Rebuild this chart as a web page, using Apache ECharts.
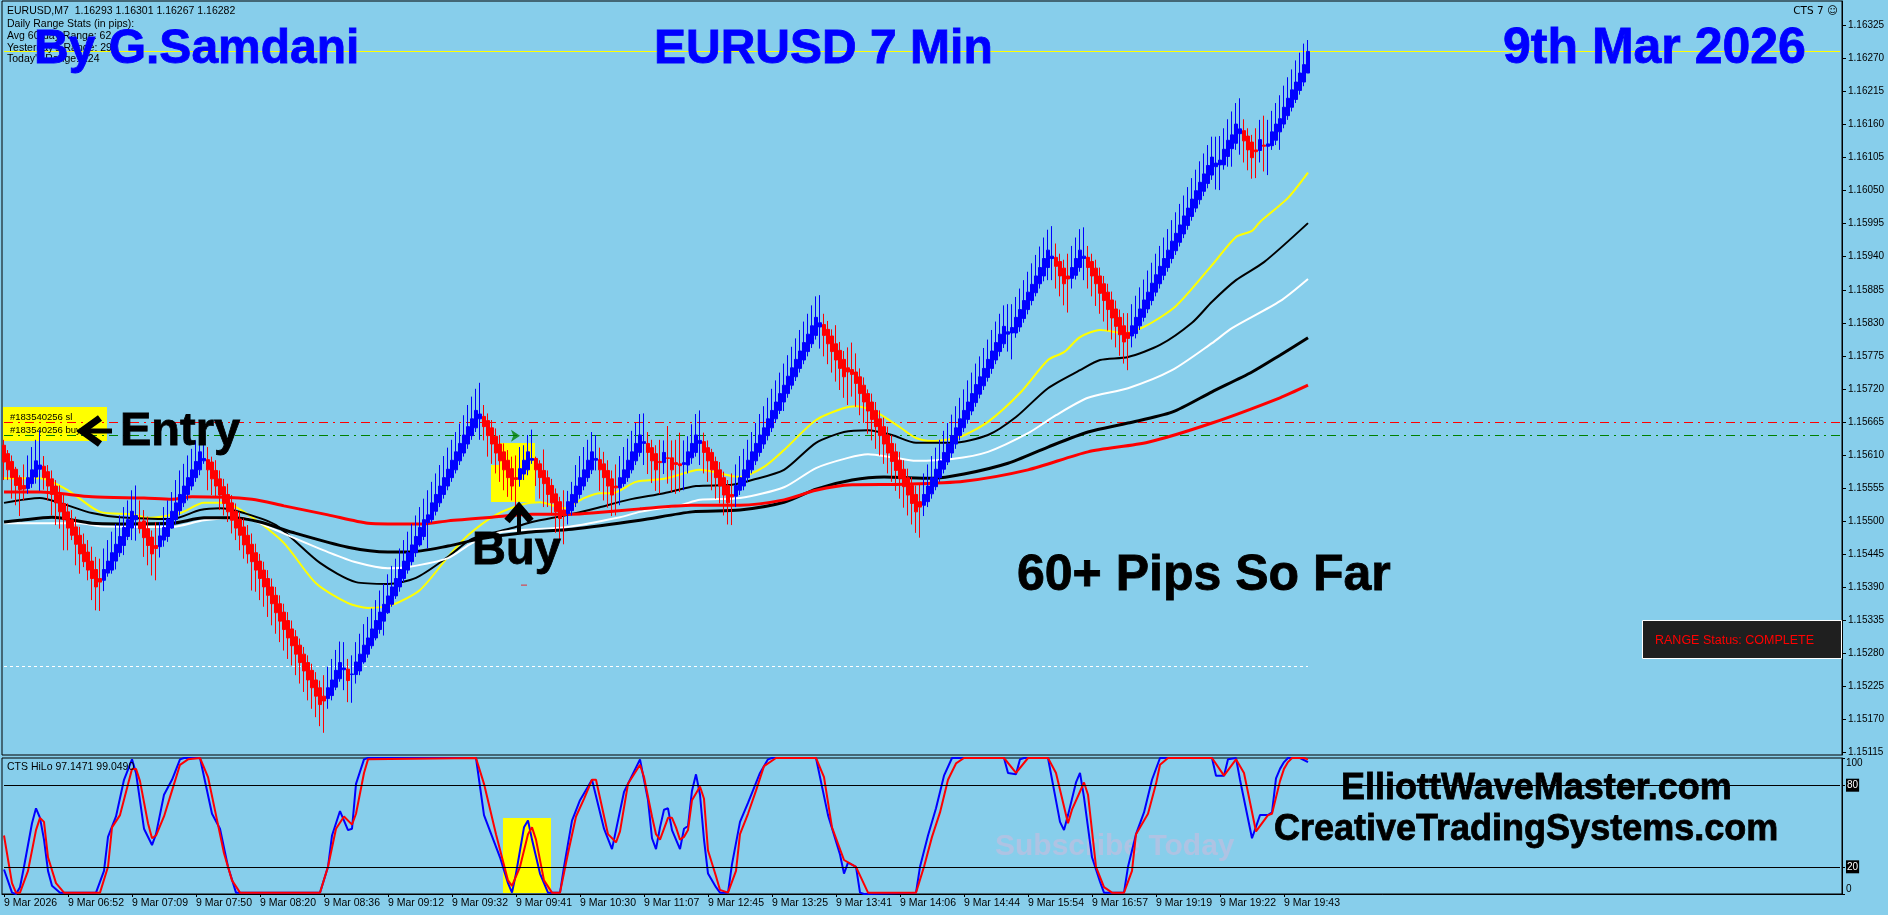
<!DOCTYPE html>
<html><head><meta charset="utf-8">
<style>html,body{margin:0;padding:0;background:#87CEEB}#c{width:1888px;height:915px}</style>
<script src="https://cdn.jsdelivr.net/npm/echarts@6/dist/echarts.min.js"></script>
</head><body><div id="c"></div>
<script>
// All prices are in points: 15610 means 1.15610. Rows: [open, close, high, low]
const barsMorning = [
[15626,15598,15635,15568],[15612,15585,15618,15568],[15599,15572,15609,15537],[15586,15559,15590,15526],[15572,15552,15576,15508],[15559,15553,15594,15534],
[15554,15572,15609,15545],[15562,15585,15623,15555],[15573,15600,15635,15562],[15586,15593,15651,15550],[15591,15572,15608,15552],[15582,15558,15593,15534],
[15570,15544,15584,15509],[15558,15530,15568,15493],[15543,15515,15559,15487],[15529,15502,15545,15451],[15515,15488,15529,15451],[15502,15476,15518,15468],
[15490,15461,15507,15426],[15476,15445,15490,15412],[15461,15432,15479,15423],[15448,15418,15468,15401],[15433,15404,15457,15368],[15419,15390,15440,15351],
[15404,15398,15437,15350],[15401,15419,15454,15383],[15413,15433,15468,15407],[15418,15447,15482,15412],[15433,15461,15495,15419],[15447,15474,15509,15440],
[15459,15489,15523,15443],[15474,15502,15534,15468],[15488,15516,15551,15468],[15502,15509,15559,15467],[15498,15487,15534,15479],[15500,15472,15518,15440],
[15487,15459,15507,15426],[15473,15445,15484,15409],[15459,15454,15498,15401],[15457,15475,15498,15439],[15468,15489,15523,15457],[15474,15503,15534,15465],
[15488,15516,15548,15487],[15502,15530,15568,15495],[15517,15544,15584,15509],[15530,15558,15595,15523],[15544,15572,15609,15534],[15558,15585,15620,15551],
[15572,15599,15634,15565],[15585,15615,15645,15576],[15600,15604,15634,15595],[15602,15585,15623,15551],[15598,15570,15607,15543],[15584,15558,15601,15540],
[15570,15543,15584,15518],[15557,15529,15570,15509],[15544,15515,15562,15498],[15530,15501,15543,15479],[15516,15488,15529,15468],[15503,15476,15515,15451],
[15490,15460,15504,15437],[15476,15445,15493,15429],[15461,15432,15479,15384],[15447,15418,15462,15382],[15433,15404,15445,15368]
];
const barsDrop = [
[15418,15390,15432,15357],[15404,15376,15418,15340],[15390,15362,15404,15326],[15376,15347,15390,15312],[15362,15333,15376,15298],[15348,15319,15362,15284],
[15334,15305,15348,15270],[15320,15292,15334,15259],[15307,15278,15318,15243],[15293,15264,15304,15229],[15278,15250,15290,15215],[15264,15235,15276,15201],
[15251,15222,15262,15187],[15235,15208,15248,15173],[15222,15194,15234,15158],[15208,15200,15243,15147],[15204,15222,15257,15187],[15209,15235,15270,15201],
[15223,15251,15285,15218],[15237,15264,15299,15232],[15252,15255,15298,15218],[15253,15234,15270,15198],[15244,15245,15276,15197],[15244,15265,15298,15229],
[15250,15278,15312,15243],[15265,15293,15328,15262],[15278,15305,15340,15272],[15292,15320,15354,15287],[15305,15334,15368,15301],[15319,15348,15384,15312],
[15333,15361,15395,15309],[15347,15375,15411,15345],[15361,15390,15425,15357],[15375,15404,15437,15370],[15390,15419,15454,15382],[15404,15433,15468,15398],
[15418,15447,15482,15412],[15432,15460,15495,15426],[15447,15474,15509,15440],[15460,15489,15523,15457],[15474,15502,15537,15468],[15497,15510,15551,15454],
[15502,15530,15565,15497],[15516,15544,15579,15509],[15530,15558,15593,15523],[15544,15572,15608,15537],[15558,15586,15622,15551],[15572,15601,15635,15565],
[15585,15615,15648,15579],[15600,15629,15662,15593],[15613,15643,15676,15607],[15628,15657,15693,15620],[15642,15670,15707,15635],[15655,15684,15720,15648],
[15670,15678,15730,15635],[15674,15657,15693,15634],[15667,15642,15679,15607],[15655,15628,15668,15595],[15641,15613,15654,15579],[15628,15600,15643,15565],
[15615,15585,15629,15551],[15601,15572,15618,15540],[15587,15558,15607,15534],[15572,15569,15609,15523]
];
const barsRange = [
[15569,15587,15623,15557],[15578,15601,15626,15568],[15585,15615,15643,15576],[15601,15604,15652,15595],[15604,15585,15607,15558],[15595,15572,15601,15537],
[15584,15562,15619,15523],[15572,15544,15584,15523],[15559,15530,15570,15509],[15545,15515,15554,15480],[15532,15504,15540,15466],[15518,15509,15551,15461],
[15512,15532,15550,15494],[15517,15544,15565,15509],[15530,15558,15593,15523],[15544,15572,15608,15537],[15558,15585,15623,15551],[15572,15601,15635,15565],
[15585,15615,15648,15578],[15601,15604,15643,15584],[15602,15585,15622,15550],[15595,15572,15615,15534],[15584,15558,15601,15522],[15570,15543,15584,15508],
[15558,15555,15594,15509],[15555,15572,15608,15526],[15562,15585,15623,15557],[15572,15601,15637,15565],[15585,15615,15650,15579],[15600,15629,15663,15593],
[15614,15643,15678,15607],[15629,15632,15679,15593],[15629,15614,15648,15578],[15622,15600,15635,15563],[15612,15585,15626,15550],[15599,15597,15635,15545],
[15597,15614,15634,15578],[15605,15604,15658,15562],[15605,15585,15634,15548],[15597,15594,15635,15545],[15595,15592,15647,15548],[15594,15597,15634,15551],
[15593,15615,15641,15579],[15605,15629,15661,15595],[15614,15643,15678,15607],[15629,15634,15684,15593],[15632,15614,15647,15579],[15622,15600,15634,15565],
[15614,15585,15620,15551],[15599,15572,15607,15537],[15585,15558,15598,15529],[15572,15543,15582,15509],[15559,15530,15568,15494],[15544,15540,15579,15493],
[15541,15559,15594,15523],[15551,15572,15608,15543],[15558,15585,15620,15551],[15572,15601,15635,15565],[15585,15615,15648,15579],[15600,15629,15663,15593],
[15614,15643,15678,15607],[15628,15655,15691,15620],[15642,15670,15705,15634],[15655,15684,15720,15648],[15670,15698,15734,15663]
];
const barsMidday = [
[15684,15712,15747,15678],[15698,15726,15762,15683],[15712,15741,15776,15705],[15726,15755,15790,15719],[15740,15769,15804,15733],[15754,15783,15818,15747],
[15768,15797,15832,15761],[15782,15811,15845,15774],[15795,15825,15859,15788],[15809,15839,15874,15802],[15823,15830,15876,15787],[15827,15809,15845,15774],
[15819,15795,15833,15761],[15808,15782,15819,15747],[15795,15768,15826,15732],[15784,15754,15798,15718],[15769,15740,15783,15705],[15755,15748,15789,15693],
[15752,15744,15797,15707],[15748,15729,15779,15690],[15740,15712,15754,15676],[15726,15698,15739,15663],[15712,15683,15719,15645],[15698,15669,15712,15634],
[15684,15657,15698,15620],[15670,15642,15684,15609],[15657,15628,15672,15595],[15643,15613,15657,15579],[15629,15599,15643,15565],[15615,15584,15629,15550],
[15601,15570,15615,15537],[15586,15557,15601,15522],[15572,15543,15587,15509],[15559,15529,15573,15494],[15544,15515,15559,15480],[15532,15523,15563,15472],
[15526,15544,15579,15508],[15532,15558,15594,15523],[15545,15572,15608,15537],[15557,15586,15622,15551],[15572,15600,15635,15565],[15586,15614,15650,15579],
[15598,15628,15663,15593],[15613,15642,15677,15605],[15628,15655,15691,15620],[15642,15670,15705,15634],[15655,15684,15719,15648],[15669,15698,15734,15662],
[15683,15712,15747,15676],[15697,15727,15762,15690],[15711,15740,15774,15704],[15725,15754,15788,15718],[15739,15769,15802,15732],[15754,15783,15818,15745],
[15768,15797,15832,15761],[15782,15811,15845,15774],[15795,15824,15859,15788],[15811,15815,15861,15782],[15813,15822,15861,15769],[15813,15839,15873,15805],
[15823,15852,15887,15815],[15837,15867,15901,15830],[15852,15881,15915,15844],[15867,15894,15929,15859]
];
const barsEvening = [
[15880,15908,15943,15874],[15895,15922,15957,15887],[15908,15937,15972,15899],[15922,15951,15985,15901],[15937,15941,15991,15901],[15939,15924,15962,15887],
[15932,15908,15945,15874],[15921,15895,15935,15859],[15908,15903,15945,15847],[15904,15922,15958,15887],[15909,15937,15972,15902],[15922,15951,15986,15915],
[15937,15941,15989,15901],[15939,15922,15958,15887],[15932,15908,15945,15874],[15921,15895,15935,15858],[15908,15879,15922,15845],[15895,15867,15908,15832],
[15881,15852,15895,15817],[15868,15838,15882,15802],[15853,15824,15867,15789],[15839,15810,15852,15775],[15825,15798,15846,15762],[15814,15804,15846,15751],
[15808,15825,15861,15789],[15812,15839,15875,15804],[15825,15853,15889,15818],[15839,15868,15902,15832],[15853,15881,15917,15846],[15867,15896,15930,15859],
[15881,15910,15945,15874],[15895,15924,15958,15887],[15909,15937,15972,15901],[15922,15951,15986,15915],[15937,15966,16001,15929],[15950,15979,16014,15943],
[15964,15993,16028,15957],[15978,16008,16042,15971],[15992,16021,16056,15985],[16007,16036,16071,16000],[16021,16050,16085,16014],[16035,16064,16099,16027],
[16049,16078,16112,16041],[16062,16092,16126,16054],[16076,16106,16140,16068],[16090,16096,16140,16052],[16093,16101,16141,16051],[16093,16119,16154,16085],
[16107,16134,16169,16090],[16120,16143,16182,16090],[16129,16161,16196,16118],[16145,16153,16204,16110],[16150,16133,16169,16097],[16141,16118,16154,16084],
[16131,16105,16143,16070],[16118,16115,16154,16071],[16117,16135,16168,16097],[16126,16124,16175,16082],[16124,16128,16168,16076],[16125,16148,16183,16118],
[16134,16161,16196,16126],[16148,16170,16209,16118],[16161,16189,16225,16154],[16175,16204,16239,16168],[16189,16218,16252,16182],[16202,16231,16267,16196],
[16217,16246,16280,16210],[16231,16260,16295,16224],[16246,16282,16301,16246]
];
// Moving averages: [bar index, points]
const maYellow = [[0,15571],[9,15571],[16,15551],[24,15515],[32,15511],[36,15505],[44,15513],[50,15530],[55,15530],[62,15506],[70,15463],[78,15396],[86,15363],[91,15355],[97,15360],[104,15385],[111,15440],[116,15476],[123,15510],[130,15528],[134,15531],[140,15521],[145,15538],[149,15546],[152,15546],[158,15565],[165,15570],[172,15583],[174,15585],[184,15573],[190,15590],[195,15618],[203,15668],[210,15688],[213,15691],[218,15681],[224,15656],[228,15638],[232,15633],[239,15640],[246,15665],[254,15713],[261,15768],[265,15781],[269,15806],[274,15818],[280,15813],[285,15823],[293,15858],[302,15926],[308,15973],[312,15983],[314,15998],[321,16038],[326,16080]];
const maBlackThin = [[0,15530],[9,15538],[14,15530],[22,15513],[29,15506],[42,15503],[49,15518],[54,15521],[60,15513],[68,15493],[79,15430],[88,15398],[96,15395],[103,15405],[111,15440],[117,15470],[127,15488],[132,15498],[141,15510],[148,15521],[156,15535],[165,15546],[173,15558],[182,15560],[187,15568],[195,15585],[203,15630],[210,15648],[216,15651],[222,15643],[228,15630],[237,15630],[246,15643],[253,15673],[261,15721],[269,15751],[274,15768],[281,15773],[289,15793],[297,15830],[302,15865],[308,15901],[315,15931],[326,15996]];
const maWhite = [[0,15496],[19,15496],[24,15491],[42,15490],[50,15501],[60,15505],[65,15493],[72,15473],[81,15448],[88,15431],[96,15421],[101,15423],[111,15438],[117,15463],[124,15481],[141,15490],[154,15506],[159,15515],[169,15526],[174,15535],[184,15538],[195,15556],[203,15588],[211,15605],[216,15611],[222,15606],[228,15600],[237,15603],[246,15615],[256,15646],[263,15676],[271,15705],[281,15721],[292,15751],[302,15796],[307,15821],[319,15866],[326,15903]];
const maBlackThick = [[0,15498],[4,15501],[12,15506],[22,15496],[29,15495],[42,15496],[50,15505],[57,15505],[64,15498],[72,15481],[86,15456],[96,15448],[101,15448],[111,15458],[119,15470],[131,15481],[142,15486],[159,15501],[172,15515],[184,15518],[195,15531],[203,15553],[212,15568],[220,15573],[232,15571],[240,15578],[251,15596],[261,15623],[271,15648],[281,15663],[292,15681],[302,15715],[312,15748],[319,15776],[326,15805]];
const maRed = [[0,15548],[9,15548],[22,15540],[35,15538],[42,15536],[47,15540],[62,15536],[70,15525],[81,15510],[91,15496],[96,15495],[105,15495],[111,15500],[122,15506],[132,15511],[142,15511],[147,15513],[159,15520],[172,15526],[184,15526],[195,15535],[203,15551],[212,15560],[225,15561],[240,15566],[256,15585],[271,15615],[286,15631],[302,15663],[319,15705],[326,15726]];
// CTS HiLo oscillator: [bar index, value]
const hiloBlue = [[0,18],[2,1],[3,0],[4,5],[5,20],[7,52],[8,63],[9,56],[10,40],[11,17],[12,6],[14,1],[23,1],[25,17],[26,42],[28,57],[30,84],[32,99],[33,89],[35,48],[37,36],[38,44],[40,73],[42,84],[44,99],[45,100],[49,100],[52,59],[54,48],[56,20],[58,1],[79,1],[81,20],[82,43],[84,61],[86,47],[87,48],[88,81],[90,99],[91,100],[118,100],[120,58],[124,27],[126,8],[127,1],[128,15],[130,49],[131,54],[132,40],[134,15],[136,1],[139,1],[140,20],[142,54],[144,69],[147,84],[150,48],[152,33],[155,75],[159,99],[161,69],[162,41],[163,33],[164,49],[165,62],[166,63],[167,47],[169,33],[170,48],[171,50],[172,76],[173,88],[174,73],[175,40],[176,15],[178,5],[179,1],[181,1],[182,22],[184,53],[186,67],[189,89],[191,99],[192,100],[203,100],[206,58],[209,29],[210,15],[211,23],[213,20],[214,1],[215,0],[228,1],[229,20],[231,43],[233,63],[235,87],[237,100],[250,100],[251,89],[253,88],[254,99],[255,100],[261,100],[264,53],[265,47],[266,58],[268,82],[269,89],[270,71],[272,27],[274,9],[275,1],[280,1],[281,20],[283,44],[285,60],[287,84],[289,100],[302,100],[303,87],[305,87],[306,99],[308,100],[309,84],[312,41],[314,58],[316,58],[317,60],[318,85],[319,92],[320,97],[321,100],[324,100],[326,97]];
const hiloRed = [[0,43],[2,8],[3,1],[4,1],[6,17],[8,47],[9,56],[10,53],[11,27],[13,8],[15,1],[24,1],[26,20],[27,49],[29,58],[32,92],[33,92],[34,83],[36,52],[37,41],[38,43],[40,57],[42,76],[44,95],[46,99],[49,100],[51,86],[53,58],[55,30],[57,10],[59,1],[79,1],[81,20],[83,48],[85,57],[87,51],[88,59],[90,89],[91,99],[118,100],[120,81],[123,44],[126,10],[127,6],[129,20],[131,44],[132,49],[133,40],[135,10],[137,1],[139,1],[141,30],[143,57],[145,70],[147,84],[148,84],[151,44],[153,38],[154,46],[156,81],[159,95],[160,86],[162,57],[163,44],[164,40],[166,56],[167,56],[168,49],[169,40],[170,42],[171,47],[172,69],[174,79],[175,70],[176,32],[178,13],[179,3],[181,1],[183,17],[184,44],[186,59],[188,76],[190,94],[193,100],[203,100],[205,86],[207,49],[210,25],[213,20],[216,1],[228,1],[230,20],[232,42],[234,60],[236,84],[238,96],[240,100],[250,100],[253,89],[256,100],[261,100],[263,89],[266,52],[267,62],[270,82],[271,73],[273,20],[275,5],[277,1],[280,1],[282,17],[283,44],[286,59],[288,81],[289,95],[291,100],[302,100],[305,87],[308,99],[310,89],[313,46],[316,58],[317,59],[319,83],[320,92],[321,97],[322,100],[325,100],[326,99]];
// Horizontal levels (points) and small trade markers
const levelBid = 16282, levelStop = 15664, levelEntry = 15643, levelDayLow = 15258;
const entryMarker = [[129,15642]];
const exitMarker = [[130,15393]];
// Axis content
const xTickLabels = ['9 Mar 2026','9 Mar 06:52','9 Mar 07:09','9 Mar 07:50','9 Mar 08:20','9 Mar 08:36','9 Mar 09:12','9 Mar 09:32','9 Mar 09:41','9 Mar 10:30','9 Mar 11:07','9 Mar 12:45','9 Mar 13:25','9 Mar 13:41','9 Mar 14:06','9 Mar 14:44','9 Mar 15:54','9 Mar 16:57','9 Mar 19:19','9 Mar 19:22','9 Mar 19:43'];
const yTickLabels = ['1.15115','1.15170','1.15225','1.15280','1.15335','1.15390','1.15445','1.15500','1.15555','1.15610','1.15665','1.15720','1.15775','1.15830','1.15885','1.15940','1.15995','1.16050','1.16105','1.16160','1.16215','1.16270','1.16325'];
const hiloTicks = [0,20,80,100];
const hiloLevels = [20,80];

const P = v => +(1 + v/1e5).toFixed(5);
const bars = [...barsMorning, ...barsDrop, ...barsRange, ...barsMidday, ...barsEvening];
const SLOTS = 460, LABEL_EVERY = 16;
const categories = Array.from({length:SLOTS},(_,i)=> i%LABEL_EVERY===0 ? (xTickLabels[i/LABEL_EVERY]||'') : '');
const tickShown = i => i%LABEL_EVERY===0 && i/LABEL_EVERY < xTickLabels.length;
const maSeries = (name,arr,color,w)=>({name,type:'line',data:arr.map(d=>[d[0],P(d[1])]),xAxisIndex:0,yAxisIndex:0,
  showSymbol:false,symbol:'none',smooth:0.25,z:2,lineStyle:{color,width:w},silent:true,animation:false});
const hlineAll=(val,color,type,w)=>({name:'',silent:true,symbol:'none',data:[],val});
const SANS='"Liberation Sans",Arial,sans-serif';
const txt=(text,x,y,size,fill,weight,extra)=>Object.assign({type:'text',x,y,z:100,silent:true,
  style:{text,font:`${weight||'normal'} ${size}px ${SANS}`,fill,align:'left',verticalAlign:'middle',textAlign:'left',textVerticalAlign:'middle'}},extra||{});
const bold=(text,x,y,size,fill)=>{const t=txt(text,x,y,size,fill,'bold');t.style.stroke=fill;t.style.lineWidth=0.8;return t;};

const chart=echarts.init(document.getElementById('c'),null,{renderer:'canvas'});
chart.setOption({
 animation:false,backgroundColor:'#87CEEB',
 grid:[
  {left:2,top:1,width:1840,height:754,show:true,backgroundColor:'transparent',borderColor:'#000',borderWidth:1},
  {left:2,top:758,width:1840,height:136,show:true,backgroundColor:'transparent',borderColor:'#000',borderWidth:1}],
 xAxis:[
  {type:'category',gridIndex:0,data:categories,boundaryGap:true,axisLine:{show:false},axisTick:{show:false},axisLabel:{show:false},splitLine:{show:false}},
  {type:'category',gridIndex:1,data:categories,boundaryGap:true,
   axisLine:{show:true,lineStyle:{color:'#000'}},
   axisTick:{show:true,length:3,alignWithLabel:true,interval:tickShown,lineStyle:{color:'#000'}},
   axisLabel:{show:true,interval:tickShown,align:'left',margin:4,color:'#000',fontFamily:SANS,fontSize:10.5,hideOverlap:false},
   splitLine:{show:false}}],
 yAxis:[
  {type:'value',gridIndex:0,position:'right',min:1.1511,max:1.16366,
   axisLine:{show:true,lineStyle:{color:'#000'}},
   axisTick:{show:true,length:4,lineStyle:{color:'#000'},customValues:yTickLabels.map(Number)},
   axisLabel:{show:true,customValues:yTickLabels.map(Number),formatter:v=>v.toFixed(5),margin:6,color:'#000',fontFamily:SANS,fontSize:10},
   splitLine:{show:false}},
  {type:'value',gridIndex:1,position:'right',min:0,max:100,
   axisLine:{show:true,lineStyle:{color:'#000'}},
   axisTick:{show:true,length:3,lineStyle:{color:'#000'},customValues:hiloTicks},
   axisLabel:{show:true,customValues:hiloTicks,margin:4,color:'#000',fontFamily:SANS,fontSize:10,
     verticalAlignMinLabel:'bottom',verticalAlignMaxLabel:'top',
     formatter:v=>hiloLevels.includes(v)?`{b|${v}}`:`${v}`,
     rich:{b:{backgroundColor:'#000',color:'#fff',padding:[2,1,1,1],fontFamily:SANS,fontSize:10}}},
   splitLine:{show:false}}],
 graphic:{elements:[
   // yellow highlight boxes (below the marks)
   {type:'rect',z:0,silent:true,shape:{x:3,y:407,width:104,height:34},style:{fill:'#FFFF00'}},
   {type:'rect',z:0,silent:true,shape:{x:500,y:443,width:35,height:59},style:{fill:'#FFFF00'}},
   {type:'rect',z:0,silent:true,shape:{x:491,y:465,width:9,height:37},style:{fill:'#FFFF00'}},
   {type:'rect',z:0,silent:true,shape:{x:503,y:818,width:48,height:75},style:{fill:'#FFFF00'}},
   Object.assign(txt('Subscribe Today',995,847,30,'#AFC3E3','bold'),{z:0}),
   Object.assign(txt('#183540256 sl',10,417,9.5,'#000'),{z:1}),
   Object.assign(txt('#183540256 buy',10,430,9.5,'#000'),{z:1}),
   // chart header text
   txt('EURUSD,M7  1.16293 1.16301 1.16267 1.16282',7,11,10.5,'#000'),
   txt('Daily Range Stats (in pips):',7,24,10.5,'#000'),
   txt('Avg 60-day Range: 62',7,36,10.5,'#000'),
   txt("Yesterday's Range: 29",7,48,10.5,'#000'),
   txt("Today's Range: 124",7,59,10.5,'#000'),
   {type:'text',x:1838,y:11,z:100,silent:true,style:{text:'CTS 7 ☺',font:`10.5px "DejaVu Sans",${SANS}`,fill:'#000',align:'right',verticalAlign:'middle',textAlign:'right',textVerticalAlign:'middle'}},
   txt('CTS HiLo 97.1471 99.0490',7,767,10.5,'#000'),
   // titles
   bold('By G.Samdani',34,50,48,'#0000FF'),
   bold('EURUSD 7 Min',654,50,48,'#0000FF'),
   bold('9th Mar 2026',1503,49,50,'#0000FF'),
   bold('Entry',120,432,47,'#000'),
   bold('Buy',472,551,47,'#000'),
   bold('60+ Pips So Far',1017,576,50,'#000'),
   bold('ElliottWaveMaster.com',1341,789,36,'#000'),
   bold('CreativeTradingSystems.com',1274,830,36,'#000'),
   // arrows
   {type:'line',z:100,silent:true,shape:{x1:112,y1:431,x2:84,y2:431},style:{stroke:'#000',lineWidth:5}},
   {type:'polyline',z:100,silent:true,shape:{points:[[100,418],[82,431],[100,444]]},style:{stroke:'#000',lineWidth:7,fill:null}},
   {type:'line',z:100,silent:true,shape:{x1:519,y1:534,x2:519,y2:510},style:{stroke:'#000',lineWidth:4}},
   {type:'polyline',z:100,silent:true,shape:{points:[[507,521],[519,507],[531,521]]},style:{stroke:'#000',lineWidth:7,fill:null}},
   // range status panel
   {type:'rect',z:100,silent:true,shape:{x:1642.5,y:620.5,width:199,height:38},style:{fill:'#1F1F1F',stroke:'#fff',lineWidth:1}},
   txt('RANGE Status: COMPLETE',1655,641,12.5,'#FF0000')
 ]},
 series:[
  maSeries('MA yellow',maYellow,'#FFFF00',2),
  maSeries('MA black thin',maBlackThin,'#000',2),
  maSeries('MA white',maWhite,'#FFF',2),
  maSeries('MA black thick',maBlackThick,'#000',3),
  maSeries('MA red',maRed,'#FF0000',3),
  {name:'EURUSD',type:'candlestick',xAxisIndex:0,yAxisIndex:0,z:3,barWidth:3,silent:true,
   data:bars.map(b=>[P(b[0]),P(b[1]),P(b[3]),P(b[2])]),
   itemStyle:{color:'#0000FF',color0:'#FF0000',borderColor:'#0000FF',borderColor0:'#FF0000',borderWidth:1},
   markLine:{silent:true,symbol:'none',animation:false,z:2,
    data:[
     [{coord:[0,P(levelBid)],lineStyle:{color:'#FFFF00',width:1,type:'solid'},label:{show:false}},{coord:[SLOTS-1,P(levelBid)]}],
     [{coord:[0,P(levelStop)],lineStyle:{color:'#FF0000',width:1,type:[9,5,2,5]},label:{show:false}},{coord:[SLOTS-1,P(levelStop)]}],
     [{coord:[0,P(levelEntry)],lineStyle:{color:'#008000',width:1,type:[9,5,2,5]},label:{show:false}},{coord:[SLOTS-1,P(levelEntry)]}],
     [{coord:[0,P(levelDayLow)],lineStyle:{color:'#FFF',width:1,type:[3,3]},label:{show:false}},{coord:[326,P(levelDayLow)]}],
     {yAxis:P(levelBid),lineStyle:{opacity:0},label:{show:true,position:'end',distance:3,formatter:()=>P(levelBid).toFixed(5),backgroundColor:'#000',color:'#fff',fontFamily:SANS,fontSize:10,padding:[2,2,1,2]}}
    ]}},
  {name:'entry marker',type:'scatter',xAxisIndex:0,yAxisIndex:0,z:4,silent:true,symbol:'arrow',symbolRotate:-90,symbolSize:9,
   data:entryMarker.map(d=>[d[0],P(d[1])]),itemStyle:{color:'#008000'}},
  {name:'exit marker',type:'scatter',xAxisIndex:0,yAxisIndex:0,z:4,silent:true,symbol:'rect',symbolSize:[6,1],
   data:exitMarker.map(d=>[d[0],P(d[1])]),itemStyle:{color:'#FF0000'}},
  {name:'HiLo levels',type:'line',xAxisIndex:1,yAxisIndex:1,z:2,silent:true,symbol:'none',data:[],
   markLine:{silent:true,symbol:'none',animation:false,label:{show:false},lineStyle:{color:'#000',width:1,type:'solid'},
    data:hiloLevels.map(v=>[{coord:[0,v]},{coord:[SLOTS-1,v]}])}},
  {name:'HiLo blue',type:'line',xAxisIndex:1,yAxisIndex:1,z:3,silent:true,symbol:'none',showSymbol:false,data:hiloBlue,lineStyle:{color:'#0000FF',width:2}},
  {name:'HiLo red',type:'line',xAxisIndex:1,yAxisIndex:1,z:4,silent:true,symbol:'none',showSymbol:false,data:hiloRed,lineStyle:{color:'#FF0000',width:2}}
 ]
});
</script></body></html>
